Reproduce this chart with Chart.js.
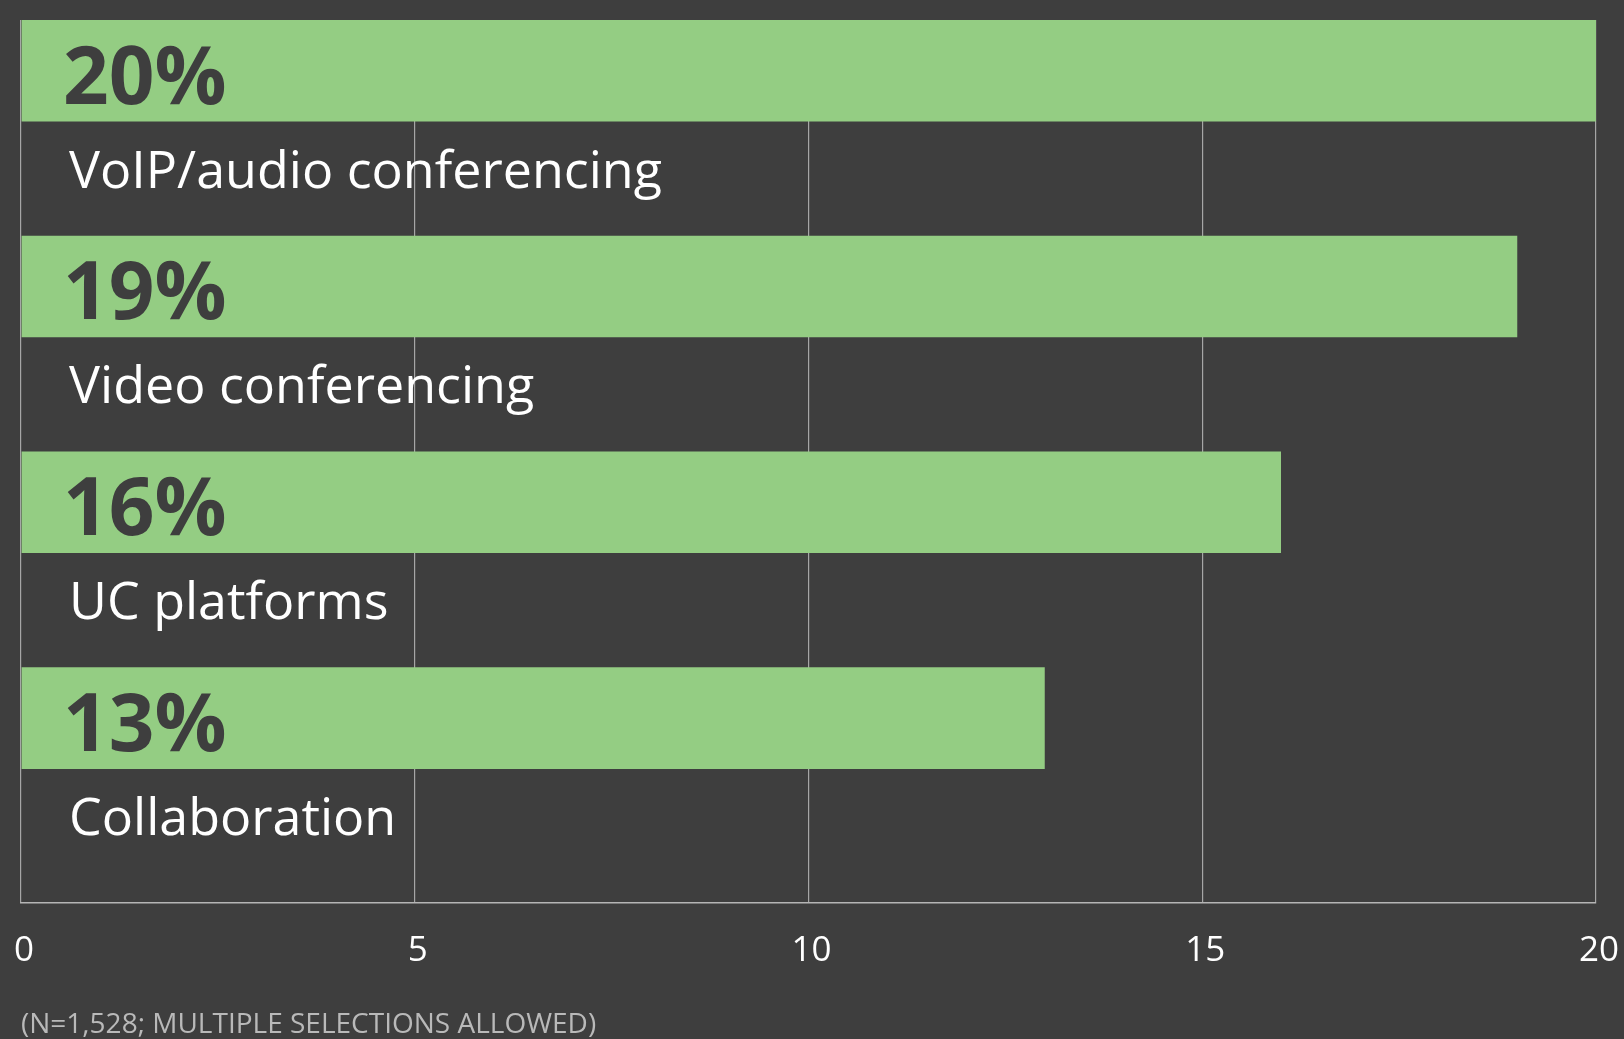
<!DOCTYPE html>
<html>
<head>
<meta charset="utf-8">
<script src="https://cdn.jsdelivr.net/npm/chart.js@4.4.1/dist/chart.umd.min.js"></script>
<style>
    html, body { margin: 0; padding: 0; background: #3e3e3e; }
    #contenedor { width: 1624px; height: 1039px; }
</style>
</head>
<body>
<div id="contenedor"><canvas id="myChart"></canvas></div>
<script>
// share of respondents per tool (percent)
var categorias = ['VoIP/audio conferencing', 'Video conferencing', 'UC platforms', 'Collaboration'];
var porcentajes = [20, 19, 16, 13];
var ticks_x = [0, 5, 10, 15, 20];
var nota = '(N=1,528; MULTIPLE SELECTIONS ALLOWED)';

// percentage inside the bar, category name below it
var etiquetas = {
    id: 'etiquetas',
    afterDatasetsDraw: function (chart) {
        var ctx = chart.ctx;
        var meta = chart.getDatasetMeta(0);
        var left = chart.chartArea.left;
        ctx.save();
        ctx.textAlign = 'left';
        ctx.textBaseline = 'alphabetic';
        meta.data.forEach(function (bar, i) {
            var bottom = bar.y + bar.height / 2;
            ctx.fillStyle = '#3e3e3e';
            ctx.font = 'bold 80px "Open Sans"';
            ctx.fillText(porcentajes[i] + '%', left + 42, bar.y + 33);
            ctx.fillStyle = '#ffffff';
            ctx.font = '52px "Open Sans"';
            ctx.fillText(categorias[i], left + 48, bottom + 66);
        });
        ctx.restore();
    }
};

function grafico_barras (labels, datos) {
    var ctx = document.getElementById('myChart').getContext('2d');
    var myChart = new Chart(ctx, {
        type: 'bar',
        data: {
            labels: labels,
            datasets: [{
                data: datos.map(function (v, i) { return { x: v, y: i }; }),
                backgroundColor: '#94cd83',
                borderWidth: 0,
                categoryPercentage: 1,
                barPercentage: 0.471
            }]
        },
        options: {
            indexAxis: 'y',
            responsive: true,
            maintainAspectRatio: false,
            animation: false,
            layout: {
                padding: { left: 21, right: 28, top: 20, bottom: 0 }
            },
            plugins: {
                legend: { display: false },
                tooltip: { enabled: false },
                title: {
                    display: true,
                    text: nota,
                    position: 'bottom',
                    align: 'start',
                    color: '#b9b9b9',
                    font: { family: 'Open Sans', size: 28, weight: 'normal', lineHeight: 1 },
                    padding: { top: 12, bottom: 0 }
                }
            },
            scales: {
                x: {
                    type: 'linear',
                    min: 0,
                    max: 20,
                    afterBuildTicks: function (axis) {
                        axis.ticks = ticks_x.map(function (v) { return { value: v }; });
                    },
                    grid: { color: '#a6a6a6', lineWidth: 1.2, drawTicks: false },
                    border: { color: '#b5b5b5', width: 1.6 },
                    ticks: {
                        color: '#ffffff',
                        padding: 0,
                        labelOffset: 3,
                        font: { family: 'Open Sans', size: 35, lineHeight: '96px' }
                    }
                },
                y: {
                    type: 'linear',
                    reverse: true,
                    offset: false,
                    min: -0.235,
                    max: 3.857,
                    display: false,
                    afterBuildTicks: function (axis) {
                        axis.ticks = categorias.map(function (c, i) { return { value: i }; });
                    }
                }
            }
        },
        plugins: [etiquetas]
    });
}

grafico_barras(categorias, porcentajes);
</script>
</body>
</html>
